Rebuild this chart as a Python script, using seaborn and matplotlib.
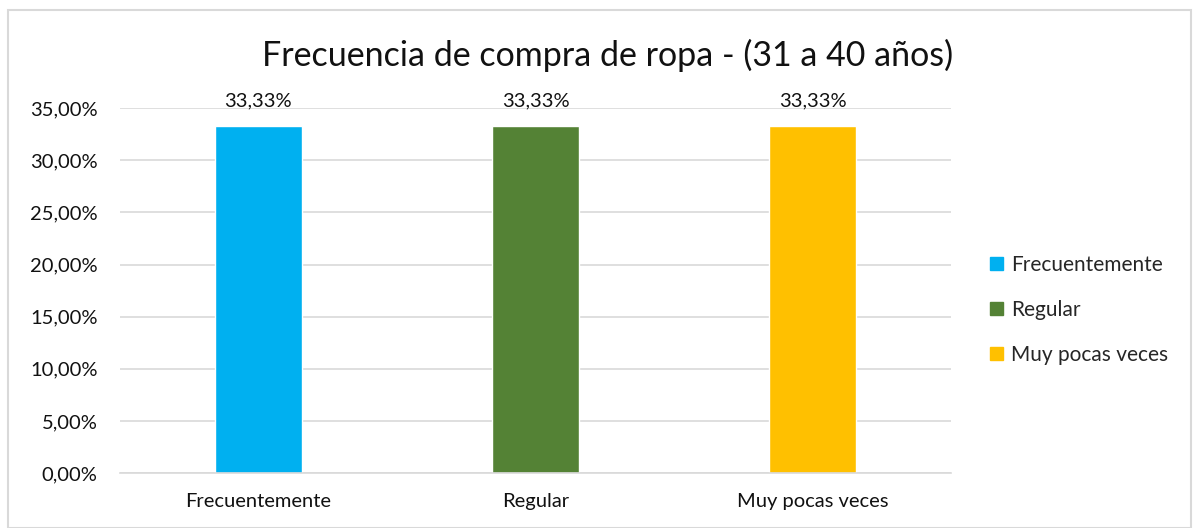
import numpy as np
import pandas as pd
import matplotlib
matplotlib.use("Agg")
import matplotlib.pyplot as plt
import seaborn as sns
from matplotlib.ticker import FuncFormatter, MultipleLocator
from matplotlib.patches import Rectangle

categorias = ["Frecuentemente", "Regular", "Muy pocas veces"]
porcentajes = [33.33, 33.33, 33.33]
colores = ["#00B0F0", "#548235", "#FFC000"]
titulo = "Frecuencia de compra de ropa - (31 a 40 años)"

df = pd.DataFrame({"cat": categorias, "pct": porcentajes})

sns.set_style("white")
plt.rcParams["font.family"] = ["Lato", "DejaVu Sans"]

fig = plt.figure(figsize=(11.98, 5.28), dpi=100)
ax = fig.add_axes([0.100, 0.104, 0.694, 0.691])

sns.barplot(data=df, x="cat", y="pct", hue="cat", palette=colores,
            width=0.315, ax=ax, legend=False, saturation=1)

ax.set_ylim(0, 35)
ax.yaxis.set_major_locator(MultipleLocator(5))
ax.yaxis.set_major_formatter(FuncFormatter(lambda v, p: f"{v:.2f}%".replace(".", ",")))
ax.grid(axis="y", color="#d9d9d9", linewidth=1.2)
ax.set_axisbelow(True)
for s in ["top", "right", "left"]:
    ax.spines[s].set_visible(False)
ax.spines["bottom"].set_color("#d9d9d9")
ax.spines["bottom"].set_linewidth(1.2)
ax.set_xlabel("")
ax.set_ylabel("")
ax.tick_params(axis="both", length=0, labelsize=14.5, colors="#111111")
ax.tick_params(axis="y", pad=16)
ax.tick_params(axis="x", pad=14)

for c in ax.containers:
    ax.bar_label(c, labels=[f"{v:.2f}%".replace(".", ",") for v in c.datavalues],
                 padding=12, fontsize=14.5, color="#111111")

fig.suptitle(titulo, x=0.507, y=0.927, fontsize=24.5, color="#111111")

handles = [Rectangle((0, 0), 1, 1, color=c) for c in colores]
fig.legend(handles, categorias, loc="center left", bbox_to_anchor=(0.811, 0.413),
           frameon=False, fontsize=15, handlelength=0.6, handleheight=0.6,
           handletextpad=0.4, labelspacing=1.2)

fig.patches.append(Rectangle((0.007, 0.0), 0.987, 0.981, transform=fig.transFigure,
                             fill=False, edgecolor="#d9d9d9", linewidth=1.5))

fig.savefig("out.png", dpi=100)
